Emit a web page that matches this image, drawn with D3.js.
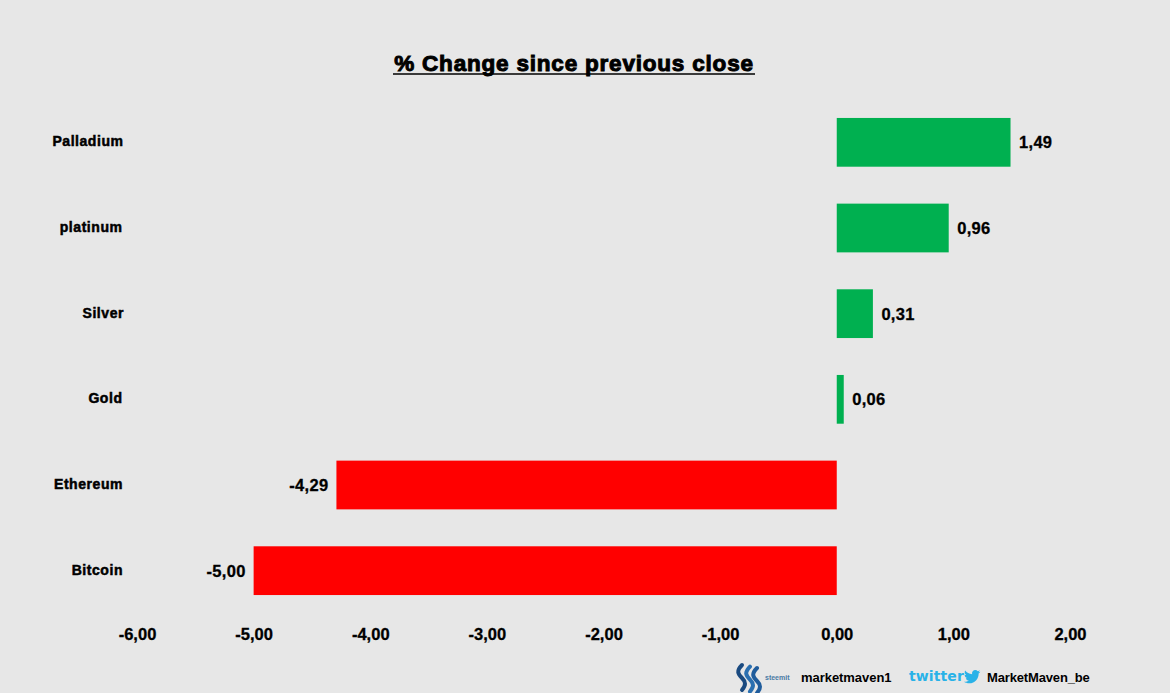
<!DOCTYPE html>
<html><head><meta charset="utf-8">
<script src="https://cdnjs.cloudflare.com/ajax/libs/d3/7.8.5/d3.min.js"></script>
<style>html,body{margin:0;padding:0;background:#e7e7e7;overflow:hidden}svg{display:block}
text{font-family:"Liberation Sans",Arial,sans-serif;font-weight:700;fill:#000}</style></head>
<body><svg id="c" width="1170" height="693"></svg>
<script>
const categories=["Palladium","platinum","Silver","Gold","Ethereum","Bitcoin"];
const values=[1.49,0.96,0.31,0.06,-4.29,-5.00];
const ticks=[-6,-5,-4,-3,-2,-1,0,1,2];
const chartTitle="% Change since previous close";
const handles=["marketmaven1","MarketMaven_be"];
const fmt=v=>v.toFixed(2).replace(".",",");
const svg=d3.select("#c");
const x=d3.scaleLinear().domain([-6,2]).range([137,1070]);
const y=d3.scaleBand().domain(categories).range([99.5,613.5]).paddingInner(0.4310).paddingOuter(0.2155);
svg.append("rect").attr("width",1170).attr("height",693).attr("fill","#e7e7e7");
svg.append("text").attr("x",574).attr("y",71).attr("text-anchor","middle").attr("font-size",22.5)
 .attr("stroke","#000").attr("stroke-width",1).attr("letter-spacing",0.8).text(chartTitle);
svg.append("line").attr("x1",393).attr("x2",755).attr("y1",74).attr("y2",74).attr("stroke","#000").attr("stroke-width",1.6);
svg.selectAll("rect.bar").data(values).join("rect").attr("class","bar")
 .attr("x",d=>x(Math.min(0,d))).attr("width",d=>Math.abs(x(d)-x(0)))
 .attr("y",(d,i)=>y(categories[i])).attr("height",y.bandwidth())
 .attr("fill",d=>d<0?"#ff0000":"#00b050");
svg.selectAll("text.val").data(values).join("text").attr("class","val")
 .attr("x",d=>x(d)+(d<0?-8:8.5)).attr("text-anchor",d=>d<0?"end":"start")
 .attr("y",(d,i)=>y(categories[i])+y.bandwidth()/2+6).attr("font-size",16.5)
 .attr("stroke","#000").attr("stroke-width",0.3).attr("letter-spacing",0.3).text(fmt);
const labelEnd=[123.5,122.5,124,122.5,123,123];
svg.selectAll("text.cat").data(categories).join("text").attr("class","cat")
 .attr("x",(d,i)=>labelEnd[i]).attr("text-anchor","end")
 .attr("y",(d,i)=>y(d)+y.bandwidth()/2+4).attr("font-size",14)
 .attr("stroke","#000").attr("stroke-width",0.5).attr("letter-spacing",0.55).text(d=>d);
const axis=d3.axisBottom(x).tickValues(ticks).tickFormat(fmt).tickSize(0).tickPadding(0);
const g=svg.append("g").attr("transform","translate(0,628)").call(axis);
g.select(".domain").remove();
g.selectAll("text").attr("font-size",16.5).attr("dy",0).attr("y",12).attr("stroke","#000").attr("stroke-width",0.3)
 .style("font-family",'"Liberation Sans",Arial,sans-serif').style("font-weight",700);
// footer marks
const sl=svg.append("g").attr("fill","none").attr("stroke-linecap","round");
[[0,"#1a4a80"],[8,"#2a6fb0"],[15,"#1f5c9c"]].forEach(([dx,c])=>{
 sl.append("path").attr("transform",`translate(${738+dx},${665+dx*0.2})`)
  .attr("d","M4,0 C-2,6 0,9 4,13 C8,17 8,20 4,25").attr("stroke",c).attr("stroke-width",4);
});
svg.append("text").attr("x",765).attr("y",680).attr("font-size",7).style("fill","#4a7aa5").text("steemit");
svg.append("text").attr("x",801).attr("y",682).attr("font-size",13).attr("letter-spacing",-0.05).text(handles[0]);
svg.append("text").attr("x",909).attr("y",681).style("fill","#29b2e8").attr("letter-spacing",0.1).style("font-family",'"DejaVu Sans"').style("font-size","14px").text("twitter");
svg.append("path").attr("transform","translate(964,668.500) scale(0.68)").style("fill","#29b2e8")
 .attr("d","M24 4.6c-.9.4-1.8.7-2.8.8 1-.6 1.8-1.6 2.2-2.7-1 .6-2 1-3.1 1.2-.9-1-2.2-1.6-3.6-1.6-3.2 0-5.5 3-4.8 6C7.7 8.1 4.1 6.1 1.7 3.1.4 5.3 1 8.2 3.2 9.7c-.8 0-1.6-.2-2.2-.6-.1 2.3 1.6 4.500 3.900 5-.7.2-1.500.2-2.200.1.600 2 2.400 3.400 4.600 3.400-2.100 1.600-4.700 2.300-7.300 2 2.200 1.400 4.800 2.200 7.500 2.200 9.100 0 14.300-7.700 14-14.600 1-.7 1.800-1.600 2.500-2.600z");
svg.append("text").attr("x",987).attr("y",682).attr("font-size",13).attr("letter-spacing",-0.15).text(handles[1]);
</script></body></html>
